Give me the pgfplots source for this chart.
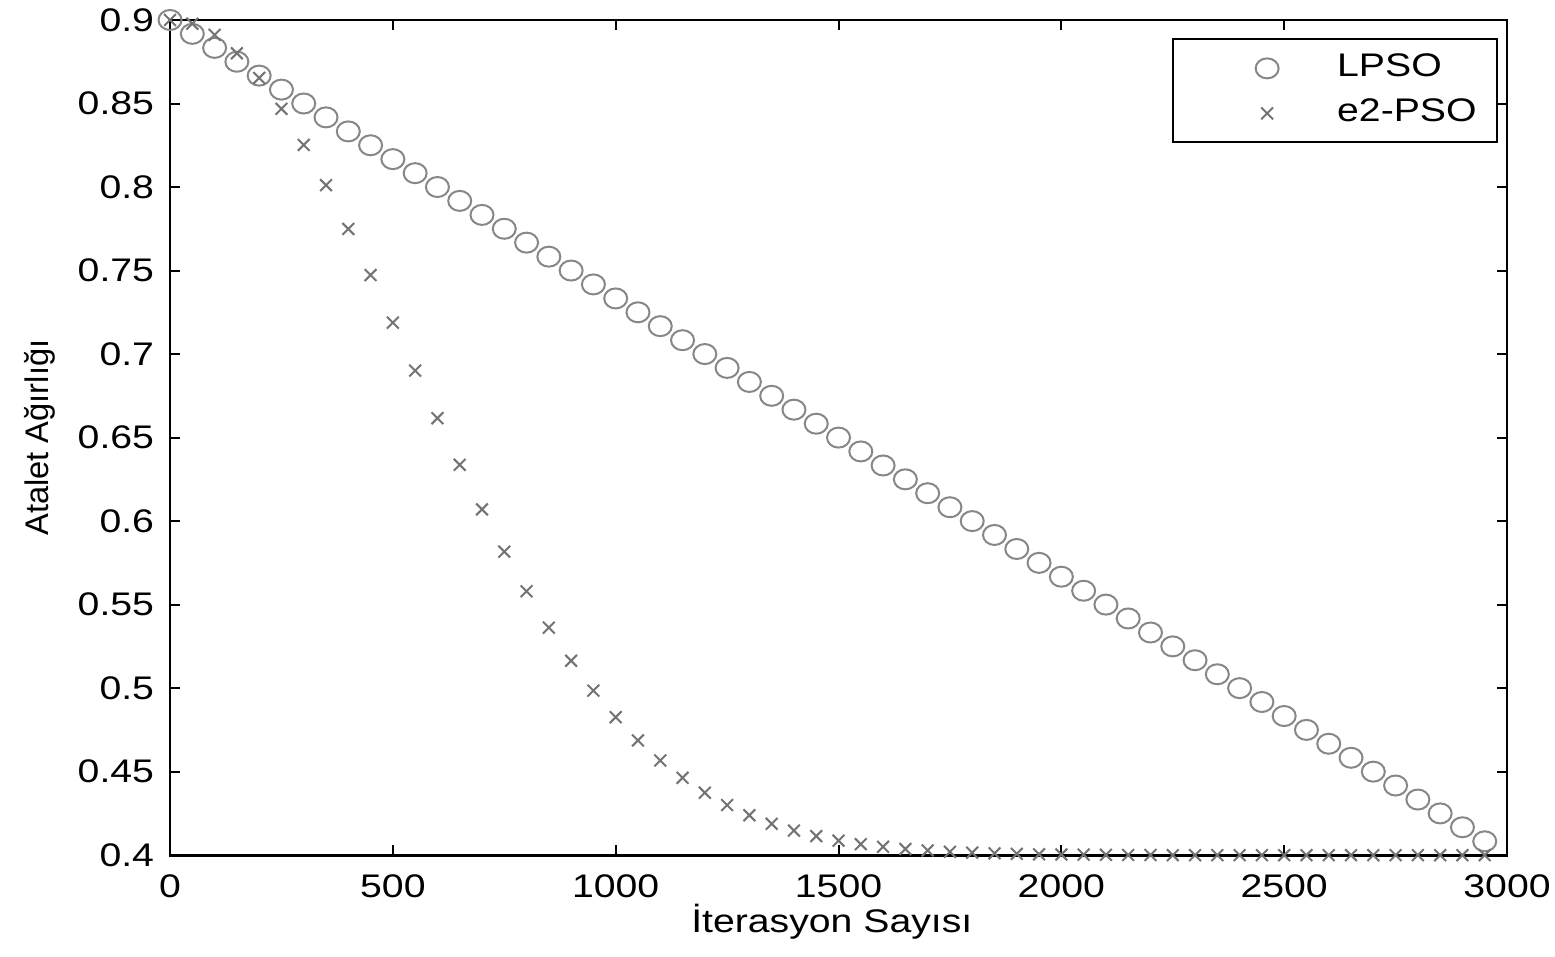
\documentclass[border=0pt]{standalone}
\usepackage{pgfplots}
\pgfplotsset{compat=1.18}
\usepackage{fontspec}
\setmainfont{Liberation Sans}
\definecolor{circgray}{RGB}{135,135,135}
\definecolor{crossgray}{RGB}{115,115,115}
\begin{document}
\begin{tikzpicture}
\begin{axis}[
  name=ax,
  scale only axis,
  width=401pt, height=250.5pt,
  xmin=0, xmax=3000, ymin=0.4, ymax=0.9,
  xtick={0,500,...,3000},
  ytick={0.4,0.45,0.5,0.55,0.6,0.65,0.7,0.75,0.8,0.85,0.9},
  scaled x ticks=false, scaled y ticks=false,
  /pgf/number format/assume math mode=true,
  /pgf/number format/1000 sep={},
  yticklabel style={/pgf/number format/fixed, /pgf/number format/precision=2, xshift=-2.8pt},
  tick align=inside,
  major tick length=3pt,
  tick style={black, line width=0.6pt},
  axis line style={black, line width=0.8pt},
  every tick label/.append style={font=\fontsize{9.8}{11}\selectfont, xscale=1.2, inner sep=1pt},
  xticklabel style={yshift=-4.8pt},
  xlabel={İterasyon Sayısı},
  ylabel={Atalet Ağırlığı},
  xlabel style={font=\fontsize{9.8}{11}\selectfont, xscale=1.2, inner sep=1pt, at={(axis description cs:0.495,-0.08)}, anchor=center},
  ylabel style={font=\fontsize{9.8}{11}\selectfont, inner sep=1pt, at={(axis description cs:-0.0973,0.5)}, anchor=center},
  legend cell align=left,
  legend image code/.code={
    \path[draw=none] (-22.2pt,0pt) -- (21pt,0pt);
    \draw[#1] plot coordinates {(0pt,0pt)};
  },
  legend style={
    at={(axis description cs:0.993,0.978)}, anchor=north east,
    draw=black, line width=0.6pt,
    inner xsep=6pt, inner ysep=4.2pt, row sep=4.5pt,
    font=\fontsize{9.8}{11}\selectfont,
    nodes={xscale=1.2, text height=7pt, text depth=2pt, inner ysep=0pt, inner xsep=0pt},
  },
]
\addplot[only marks, mark=o, mark size=3pt, color=circgray, line width=0.6pt, mark options={xscale=1.15}] coordinates {
(0,0.9) (50,0.8917) (100,0.8833) (150,0.875) (200,0.8667) (250,0.8583) (300,0.85) (350,0.8417) (400,0.8333) (450,0.825)
(500,0.8167) (550,0.8083) (600,0.8) (650,0.7917) (700,0.7833) (750,0.775) (800,0.7667) (850,0.7583) (900,0.75) (950,0.7417)
(1000,0.7333) (1050,0.725) (1100,0.7167) (1150,0.7083) (1200,0.7) (1250,0.6917) (1300,0.6833) (1350,0.675) (1400,0.6667) (1450,0.6583)
(1500,0.65) (1550,0.6417) (1600,0.6333) (1650,0.625) (1700,0.6167) (1750,0.6083) (1800,0.6) (1850,0.5917) (1900,0.5833) (1950,0.575)
(2000,0.5667) (2050,0.5583) (2100,0.55) (2150,0.5417) (2200,0.5333) (2250,0.525) (2300,0.5167) (2350,0.5083) (2400,0.5) (2450,0.4917)
(2500,0.4833) (2550,0.475) (2600,0.4667) (2650,0.4583) (2700,0.45) (2750,0.4417) (2800,0.4333) (2850,0.425) (2900,0.4167) (2950,0.4083)
};
\addlegendentry{LPSO}
\addplot[only marks, mark=x, mark size=2.5pt, color=crossgray, line width=0.6pt] coordinates {
(0,0.9) (50,0.8978) (100,0.8911) (150,0.8801) (200,0.8653) (250,0.8468) (300,0.8252) (350,0.8011) (400,0.7749) (450,0.7473)
(500,0.7188) (550,0.6901) (600,0.6616) (650,0.6337) (700,0.607) (750,0.5817) (800,0.558) (850,0.5362) (900,0.5164) (950,0.4985)
(1000,0.4826) (1050,0.4687) (1100,0.4567) (1150,0.4463) (1200,0.4374) (1250,0.43) (1300,0.4239) (1350,0.4188) (1400,0.4147) (1450,0.4114)
(1500,0.4087) (1550,0.4066) (1600,0.405) (1650,0.4037) (1700,0.4028) (1750,0.402) (1800,0.4015) (1850,0.4011) (1900,0.4008) (1950,0.4005)
(2000,0.4004) (2050,0.4003) (2100,0.4002) (2150,0.4001) (2200,0.4001) (2250,0.4) (2300,0.4) (2350,0.4) (2400,0.4) (2450,0.4)
(2500,0.4) (2550,0.4) (2600,0.4) (2650,0.4) (2700,0.4) (2750,0.4) (2800,0.4) (2850,0.4) (2900,0.4) (2950,0.4)
};
\addlegendentry{e2-PSO}
\end{axis}
\path ([xshift=-51pt,yshift=-30.3pt]ax.south west) rectangle ([xshift=14.4pt,yshift=6pt]ax.north east);
\end{tikzpicture}
\end{document}
